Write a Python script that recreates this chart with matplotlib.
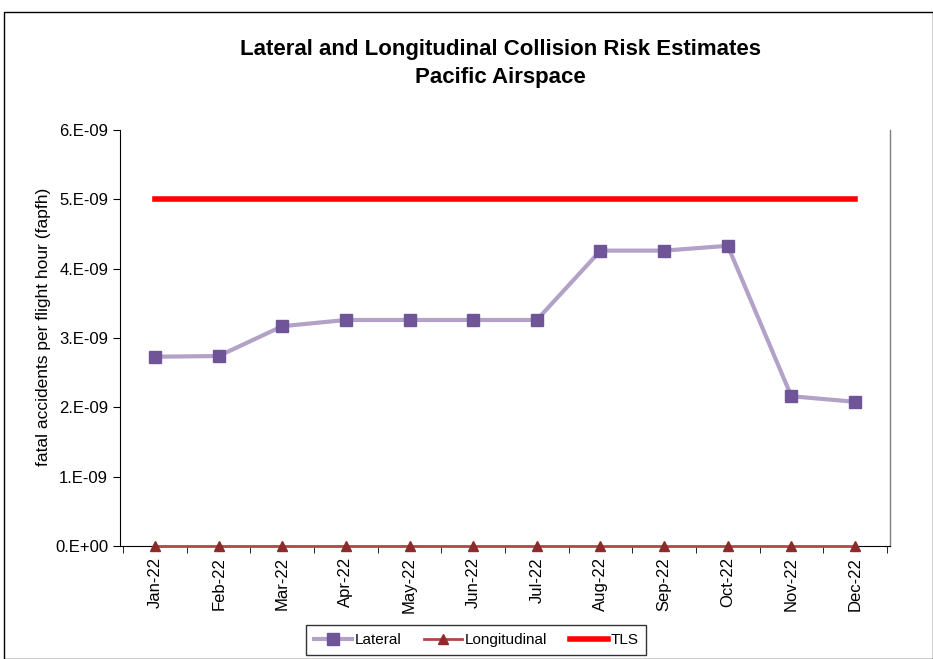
import matplotlib
matplotlib.use("Agg")
import matplotlib.pyplot as plt
from matplotlib.patches import Rectangle
from matplotlib.ticker import FuncFormatter, MultipleLocator

months = ["Jan-22", "Feb-22", "Mar-22", "Apr-22", "May-22", "Jun-22",
          "Jul-22", "Aug-22", "Sep-22", "Oct-22", "Nov-22", "Dec-22"]
lateral = [2.73e-9, 2.74e-9, 3.17e-9, 3.26e-9, 3.26e-9, 3.26e-9,
           3.26e-9, 4.26e-9, 4.26e-9, 4.33e-9, 2.16e-9, 2.08e-9]
longitudinal = [0.0] * 12
tls = [5.0e-9] * 12

plt.rcParams['font.family'] = ['Liberation Sans', 'DejaVu Sans']

fig = plt.figure(figsize=(9.33, 6.59), dpi=100)
W, H = 933, 659
ax = fig.add_axes([120 / W, 1 - 546 / H, (890 - 120) / W, (546 - 130) / H])

x = list(range(len(months)))
ax.plot(x, lateral, color="#B3A2C7", lw=3, marker="s", ms=8,
        mfc="#6F5597", mec="#6F5597", label="Lateral", zorder=4)
ax.plot(x, longitudinal, color="#B04848", lw=2, marker="^", ms=7,
        mfc="#8E2A2A", mec="#8E2A2A", label="Longitudinal", zorder=5, clip_on=False)
ax.plot(x, tls, color="#FF0000", lw=4, label="TLS", zorder=3)

ax.set_xlim(-0.55, len(months) - 0.45)
ax.set_ylim(0, 6e-9)
ax.yaxis.set_major_locator(MultipleLocator(1e-9))

def fmt(v, pos):
    n = int(round(v / 1e-9))
    if n == 0:
        return "0.E+00"
    return f"{n}.E-09"
ax.yaxis.set_major_formatter(FuncFormatter(fmt))
ax.yaxis.get_offset_text().set_visible(False)

ax.set_xticks(x)
ax.set_xticklabels(months, rotation=90, fontsize=12)
ax.tick_params(axis='x', length=0, pad=8)
ax.set_xticks([i + 0.5 for i in range(-1, len(months))], minor=True)
ax.tick_params(axis='x', which='minor', length=5, direction='out', color='black')
ax.tick_params(axis='y', labelsize=12, length=5, direction='out')

for s in ["left", "bottom"]:
    ax.spines[s].set_color("black")
ax.spines["top"].set_visible(False)
ax.spines["right"].set_color("#808080")
ax.spines["right"].set_linewidth(1)

ax.set_ylabel("fatal accidents per flight hour (fapfh)", fontsize=12.5)
ax.yaxis.set_label_coords(51 / W, 1 - 327 / H, transform=fig.transFigure)

fig.text(500 / W, 1 - 50 / H, "Lateral and Longitudinal Collision Risk Estimates",
         ha="center", va="center", fontsize=16, fontweight="bold")
fig.text(500 / W, 1 - 77 / H, "Pacific Airspace",
         ha="center", va="center", fontsize=16, fontweight="bold")

leg = fig.legend(loc="center", bbox_to_anchor=(476 / W, 1 - 640 / H), ncol=3,
                 fontsize=11, frameon=True, fancybox=False, edgecolor="black",
                 handlelength=2.5, columnspacing=1.5, handletextpad=0.15,
                 borderpad=0.5)
leg.get_frame().set_linewidth(1)

fig.patches.append(Rectangle((4 / W, 0), 1 - 4 / W, 1 - 12 / H, transform=fig.transFigure,
                             fill=False, edgecolor="black", lw=1))

fig.savefig("out.png", dpi=100)
